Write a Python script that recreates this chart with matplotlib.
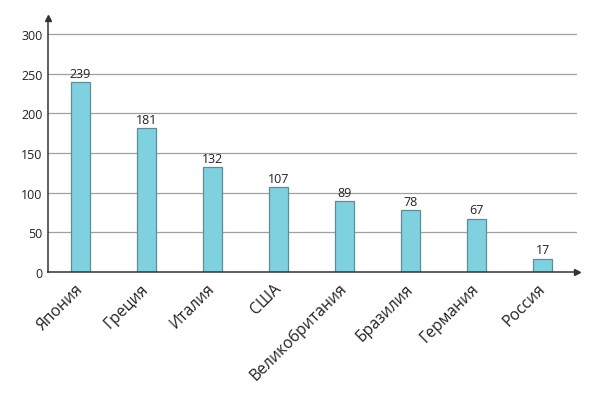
import numpy as np
import matplotlib
matplotlib.use("Agg")
import matplotlib.pyplot as plt

countries = ["Япония", "Греция", "Италия", "США", "Великобритания", "Бразилия", "Германия", "Россия"]
values = [239, 181, 132, 107, 89, 78, 67, 17]
yticks = [0, 50, 100, 150, 200, 250, 300]

plt.rcParams['font.family'] = ['Open Sans', 'DejaVu Sans']

fig = plt.figure(figsize=(5.99, 4.02), dpi=100)
ax = fig.add_axes([48/599, (402-273)/402, (577-48)/599, (273-19)/402])

x = np.arange(len(countries))
ax.set_axisbelow(True)
for t in yticks[1:]:
    ax.axhline(t, color="#a0a0a0", lw=0.9, zorder=0)

bars = ax.bar(x, values, width=0.29, color="#80d1e0", edgecolor="#5f8d96", linewidth=0.9, zorder=2)
for xi, v in zip(x, values):
    ax.text(xi, v + 3, str(v), ha="center", va="bottom", fontsize=9, color="#222222")

ax.set_xlim(-0.49, 7.52)
ax.set_ylim(0, 320)
ax.set_yticks(yticks)
ax.set_xticks(x)
ax.set_xticklabels(countries, rotation=45, ha="right", va="center", rotation_mode="anchor", fontsize=11.3, color="#222222")
ax.tick_params(axis="y", length=0, pad=4, labelsize=9, labelcolor="#222222")
ax.tick_params(axis="x", length=0, pad=10)

for s in ["top", "right"]:
    ax.spines[s].set_visible(False)
for s in ["left", "bottom"]:
    ax.spines[s].set_color("#333333")
    ax.spines[s].set_linewidth(1.1)

ax.plot(1.0, 0, ">", color="#333333", ms=4.5, transform=ax.transAxes, clip_on=False)
ax.plot(0, 1.0, "^", color="#333333", ms=4.5, transform=ax.transAxes, clip_on=False)

fig.savefig("out.png", dpi=100)
